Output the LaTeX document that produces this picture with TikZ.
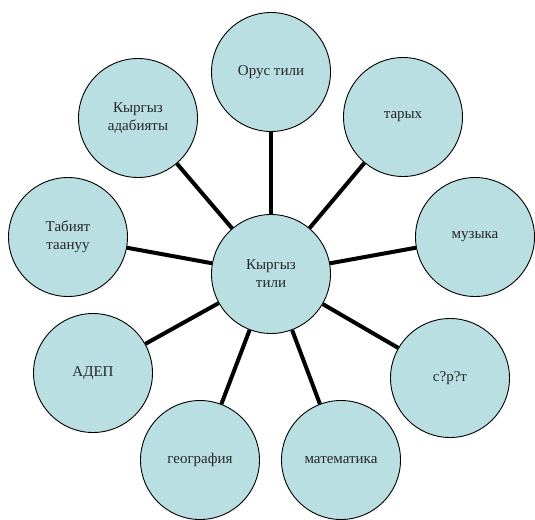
\documentclass[tikz,border=0pt]{standalone}
\usepackage{fontspec}
\setmainfont{Liberation Serif}
\definecolor{cfill}{RGB}{185,223,227}
\begin{document}
\begin{tikzpicture}[x=1pt,y=-1pt,
  bub/.style={circle, draw=black, line width=0.9pt, fill=cfill, minimum size=119pt,
    inner sep=0pt, align=center, font=\fontsize{15}{18}\selectfont, text=black!85},
  link/.style={line width=4pt, draw=black}]
\useasboundingbox (0,0) rectangle (535,519);
\node[bub] (c)   at (271,274) {Кыргыз\\тили};
\node[bub] (rus) at (271,72)  {Орус тили};
\node[bub] (ada) at (138,118) {Кыргыз\\адабияты};
\node[bub] (tar) at (403,117) {тарых};
\node[bub] (tab) at (68,237)  {Табият\\таануу};
\node[bub] (muz) at (475,237) {музыка};
\node[bub] (adep) at (93,373) {АДЕП};
\node[bub] (sur) at (450,378) {с?р?т};
\node[bub] (geo) at (200,460) {география};
\node[bub] (mat) at (341,460) {математика};
\foreach \n in {rus,ada,tar,tab,muz,adep,sur,geo,mat}
  \draw[link] (c) -- (\n);
\end{tikzpicture}
\end{document}
